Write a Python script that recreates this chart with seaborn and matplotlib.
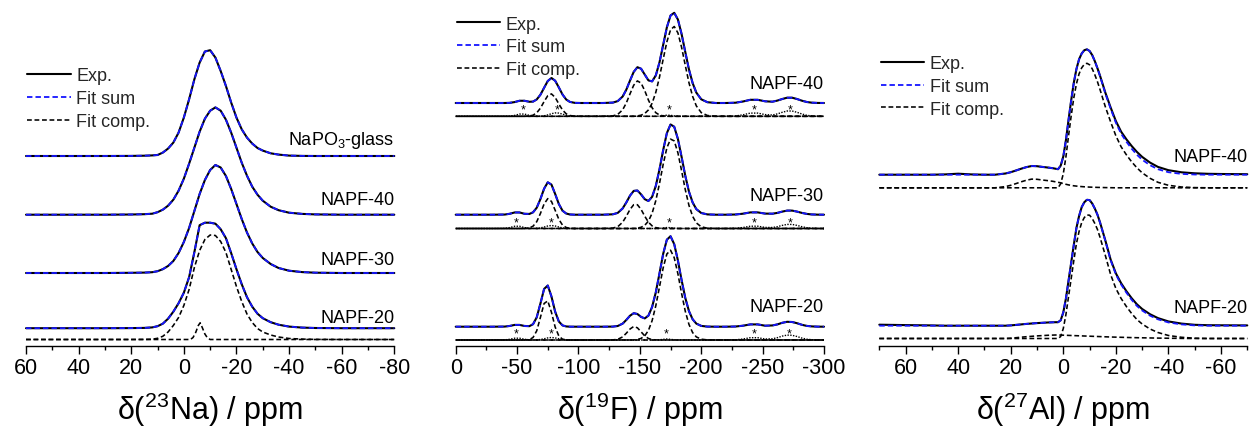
import numpy as np
import matplotlib
matplotlib.use("Agg")
import matplotlib.pyplot as plt
from matplotlib.lines import Line2D
from matplotlib.ticker import FixedLocator
import seaborn as sns

# ======================= DATA =======================
# ---- 23Na panel (intensities in arbitrary units) ----
NA_PPM = [60, 40, 30, 20, 15, 12, 10, 8, 6, 4, 2, 0, -2, -4, -6, -8, -10, -12, -14,
          -16, -18, -20, -22, -24, -26, -28, -30, -33, -36, -40, -45, -50, -60, -80]
NA_GLASS = {20: 0.1, 15: 0.3, 12: 0.6, 10: 1.0, 8: 3.4, 6: 7.4, 4: 13.4, 2: 23.4, 0: 38.4,
            -2: 56.7, -4: 76.7, -6: 93.4, -8: 104.5, -10: 105.8, -12: 98.4, -14: 85.0,
            -16: 70.0, -18: 53.4, -20: 38.4, -22: 26.7, -24: 18.4, -26: 12.4, -28: 8.0,
            -30: 5.4, -33: 2.7, -36: 1.4, -40: 0.4, -45: 0.1}
NA_40 = {20: 0.2, 15: 0.5, 12: 1.0, 10: 2.5, 8: 5.0, 6: 9.0, 4: 15.0, 2: 24.0, 0: 36.0,
         -2: 51.0, -4: 67.0, -6: 83.0, -8: 96.0, -10: 104.0, -12: 107.3, -14: 104.0,
         -16: 95.0, -18: 82.0, -20: 67.0, -22: 52.0, -24: 39.0, -26: 28.0, -28: 20.0,
         -30: 14.0, -33: 8.0, -36: 4.5, -40: 2.0, -45: 0.8, -50: 0.3}
NA_30 = {20: 0.2, 15: 0.4, 12: 0.8, 10: 1.8, 8: 3.8, 6: 7.0, 4: 12.0, 2: 20.0, 0: 31.0,
         -2: 45.0, -4: 62.0, -6: 79.0, -8: 93.0, -10: 103.0, -12: 108.0, -14: 105.5,
         -16: 97.0, -18: 84.0, -20: 69.0, -22: 54.0, -24: 40.5, -26: 29.5, -28: 21.0,
         -30: 15.0, -33: 9.0, -36: 5.0, -40: 2.3, -45: 0.9, -50: 0.3}
NA_20_EXP = {20: 0.1, 15: 0.3, 12: 0.8, 10: 2.0, 8: 4.5, 6: 9.5, 4: 16.5, 2: 25.0, 0: 35.5,
             -2: 51.0, -4: 76.0, -6: 103.0, -8: 105.5, -10: 105.5, -12: 104.5, -14: 99.0,
             -16: 90.0, -18: 75.0, -20: 59.0, -22: 44.0, -24: 31.0, -26: 21.5, -28: 14.5,
             -30: 10.0, -33: 6.0, -36: 3.5, -40: 1.6, -45: 0.6, -50: 0.2}
NA_20_MAIN = {15: 0.1, 12: 0.3, 10: 1.2, 8: 3.2, 6: 7.5, 4: 14.0, 2: 22.0, 0: 34.0,
              -2: 50.0, -4: 72.0, -6: 89.0, -8: 100.0, -10: 104.5, -12: 104.0, -14: 98.0,
              -16: 87.0, -18: 70.0, -20: 53.0, -22: 38.0, -24: 25.5, -26: 17.0, -28: 11.0,
              -30: 7.5, -33: 4.5, -36: 2.5, -40: 1.0, -45: 0.4, -50: 0.1}
NA_SMALL_PPM = [60, -2.5, -3.5, -4.5, -5.5, -6.2, -7.0, -8.0, -9.0, -10.0, -80]
NA_20_SMALL = [0.0, 0.0, 2.0, 7.0, 14.0, 16.7, 12.0, 5.5, 1.5, 0.0, 0.0]
NA_TICKS = [60, 40, 20, 0, -20, -40, -60, -80]
NA_TICKLABELS = ["60", "40", "20", "0", "-20", "-40", "-60", "-80"]
NA_MINOR = [50, 30, 10, -10, -30, -50, -70]

# ---- 19F panel ----
F_PPM = [0, -10, -20, -30, -40, -44, -48, -52, -56, -60, -63, -66, -69, -72, -75, -78,
         -81, -84, -87, -90, -93, -97, -102, -110, -120, -128, -132, -136, -139, -142,
         -145, -148, -151, -154, -157, -160, -163, -166, -169, -172, -175, -178, -181,
         -184, -187, -190, -193, -196, -200, -205, -212, -220, -228, -234, -240, -246,
         -252, -258, -262, -266, -270, -274, -278, -282, -286, -290, -295, -300]
F40_A = {-60: 0.3, -63: 1.1, -66: 3.5, -69: 8.1, -72: 14.7, -75: 20.6, -78: 22.4, -81: 18.9,
         -84: 12.4, -87: 6.3, -90: 2.5, -93: 0.8, -97: 0.1}
F40_B = {-128: 0.4, -132: 1.9, -136: 6.5, -139: 13.4, -142: 22.5, -145: 31.1, -148: 35.4,
         -151: 33.2, -154: 25.6, -157: 16.2, -160: 8.5, -163: 3.6, -166: 1.3, -169: 0.4,
         -172: 0.1}
F40_C = {-148: 0.4, -151: 1.1, -154: 2.8, -157: 6.4, -160: 13.1, -163: 24.0, -166: 39.2,
         -169: 57.1, -172: 74.4, -175: 86.5, -178: 89.8, -181: 83.4, -184: 69.0, -187: 51.0,
         -190: 33.6, -193: 19.9, -196: 10.4, -200: 3.7, -205: 0.8}
F40_SB = {-44: 0.16, -48: 0.92, -52: 2.24, -56: 2.24, -60: 0.92, -63: 0.3, -66: 0.05,
          -69: 0.14, -72: 0.5, -75: 1.4, -78: 2.6, -81: 3.4, -84: 3.2, -87: 2.2, -90: 1.0,
          -93: 0.3, -97: 0.05, -166: 0.15, -169: 0.6, -172: 1.15, -175: 1.0, -178: 0.4,
          -181: 0.08, -228: 0.3, -234: 1.5, -240: 3.2, -246: 3.2, -252: 1.7, -258: 1.3,
          -262: 2.4, -266: 4.0, -270: 5.3, -274: 5.3, -278: 4.0, -282: 2.3, -286: 1.0,
          -290: 0.34, -295: 0.06}
F30_A = {-60: 0.6, -63: 2.3, -66: 6.8, -69: 15.0, -72: 24.5, -75: 29.9, -78: 27.1, -81: 18.3,
         -84: 9.2, -87: 3.4, -90: 1.0, -93: 0.2}
F30_B = {-128: 0.4, -132: 1.8, -136: 6.3, -139: 12.3, -142: 19.1, -145: 23.8, -148: 23.8,
         -151: 19.1, -154: 12.3, -157: 6.3, -160: 2.6, -163: 0.9, -166: 0.2}
F30_C = {-148: 0.4, -151: 1.2, -154: 3.2, -157: 7.4, -160: 15.3, -163: 27.9, -166: 45.0,
         -169: 64.1, -172: 80.6, -175: 89.4, -178: 87.6, -181: 75.7, -184: 57.8, -187: 38.9,
         -190: 23.1, -193: 12.2, -196: 5.6, -200: 1.7, -205: 0.3}
F30_SB = {-40: 0.16, -44: 0.92, -48: 2.24, -52: 2.24, -56: 0.92, -60: 0.16, -63: 0.06,
          -66: 0.19, -69: 0.63, -72: 1.5, -75: 2.5, -78: 3.0, -81: 2.5, -84: 1.5, -87: 0.63,
          -90: 0.19, -93: 0.04, -166: 0.12, -169: 0.5, -172: 0.96, -175: 0.84, -178: 0.34,
          -181: 0.06, -228: 0.2, -234: 1.0, -240: 2.3, -246: 2.3, -252: 1.1, -258: 1.0,
          -262: 1.8, -266: 3.1, -270: 4.1, -274: 4.1, -278: 3.1, -282: 1.8, -286: 0.8,
          -290: 0.26, -295: 0.05}
F20_A = {-60: 0.4, -63: 2.5, -66: 9.2, -69: 22.6, -72: 36.5, -75: 39.1, -78: 27.7, -81: 13.0,
         -84: 4.0, -87: 0.8, -90: 0.1}
F20_B = {-128: 0.1, -132: 0.7, -136: 3.1, -139: 6.8, -142: 11.0, -145: 13.5, -148: 12.2,
         -151: 8.2, -154: 4.1, -157: 1.5, -160: 0.4, -163: 0.1}
F20_C = {-148: 0.5, -151: 1.6, -154: 4.2, -157: 9.6, -160: 19.4, -163: 34.3, -166: 53.1,
         -169: 72.2, -172: 86.0, -175: 89.8, -178: 82.3, -181: 66.2, -184: 46.6, -187: 28.8,
         -190: 15.6, -193: 7.4, -196: 3.1, -200: 0.8, -205: 0.1}
F20_SB = {-40: 0.13, -44: 0.74, -48: 1.8, -52: 1.8, -56: 0.74, -60: 0.13, -66: 0.16,
          -69: 0.5, -72: 1.25, -75: 2.1, -78: 2.5, -81: 2.1, -84: 1.25, -87: 0.5, -90: 0.16,
          -93: 0.03, -166: 0.21, -169: 0.68, -172: 1.0, -175: 0.68, -178: 0.21, -181: 0.03,
          -228: 0.2, -234: 1.0, -240: 2.3, -246: 2.3, -252: 1.0, -258: 1.25, -262: 2.3,
          -266: 3.9, -270: 4.9, -274: 4.7, -278: 3.5, -282: 1.9, -286: 0.8, -290: 0.3,
          -295: 0.05}
F40_STARS = [-55, -83, -173.5, -243, -272.3]
F30_STARS = [-49.6, -78, -173.7, -243, -272.3]
F20_STARS = [-49.6, -77.6, -171.8, -243, -271.7]
F_TICKS = [0, -50, -100, -150, -200, -250, -300]
F_TICKLABELS = ["0", "-50", "-100", "-150", "-200", "-250", "-300"]
F_MINOR = [-25, -75, -125, -175, -225, -275]

# ---- 27Al panel ----
AL_PPM = [70, 60, 50, 45, 40, 35, 30, 26, 22, 20, 18, 16, 14, 12, 10, 8, 6, 4, 3, 2, 1, 0,
          -1, -2, -3, -4, -5, -6, -7, -8, -9, -10, -11, -12, -13, -14, -16, -18, -20, -22,
          -24, -26, -28, -30, -33, -36, -40, -45, -50, -55, -60, -70]
AL40_MAIN = {1: 4.0, 0: 14.0, -1: 31.0, -2: 52.0, -3: 72.0, -4: 90.0, -5: 104.0, -6: 114.0,
             -7: 120.0, -8: 123.5, -9: 124.5, -10: 123.0, -11: 119.0, -12: 113.0, -13: 106.0,
             -14: 98.0, -16: 81.0, -18: 66.0, -20: 52.0, -22: 41.0, -24: 33.0, -26: 26.0,
             -28: 20.0, -30: 15.0, -33: 9.5, -36: 5.5, -40: 2.5, -45: 0.8, -50: 0.2}
AL40_SEC = {22: 1.2, 20: 2.5, 18: 4.2, 16: 6.0, 14: 7.6, 12: 8.7, 10: 8.5, 8: 7.8, 6: 7.2,
            4: 6.5, 3: 6.0, 2: 5.5, 1: 5.0, 0: 4.2, -1: 3.5, -2: 2.9, -3: 2.4, -4: 2.0,
            -5: 1.7, -6: 1.4, -7: 1.2, -8: 1.0, -9: 0.85, -10: 0.7, -11: 0.6, -12: 0.5,
            -13: 0.4, -14: 0.35, -16: 0.2, -18: 0.1}
AL40_RESID = {45: 0.3, 40: 1.0, 35: 0.3, -14: 0.4, -16: 0.8, -18: 1.2, -20: 1.6, -22: 2.0,
              -24: 2.4, -26: 2.7, -28: 2.8, -30: 2.8, -33: 2.6, -36: 2.3, -40: 2.0, -45: 1.6,
              -50: 1.2, -55: 0.9, -60: 0.7, -70: 0.5}
AL20_MAIN = {1: 2.0, 0: 10.0, -1: 24.0, -2: 42.0, -3: 60.0, -4: 78.0, -5: 95.0, -6: 107.0,
             -7: 116.0, -8: 121.0, -9: 123.5, -10: 123.3, -11: 120.0, -12: 115.0, -13: 109.0,
             -14: 101.0, -16: 83.0, -18: 64.0, -20: 50.0, -22: 40.0, -24: 32.0, -26: 25.0,
             -28: 19.0, -30: 14.5, -33: 9.5, -36: 6.0, -40: 3.0, -45: 1.2, -50: 0.3}
AL20_SEC = {20: 0.3, 18: 0.8, 16: 1.3, 14: 1.8, 12: 2.2, 10: 2.6, 8: 2.9, 6: 3.2, 4: 3.4,
            3: 3.5, 2: 3.5, 1: 3.4, 0: 3.3, -1: 3.2, -2: 3.1, -3: 3.0, -4: 2.9, -5: 2.8,
            -6: 2.7, -7: 2.6, -8: 2.5, -9: 2.4, -10: 2.3, -11: 2.2, -12: 2.1, -13: 2.0,
            -14: 1.9, -16: 1.7, -18: 1.5, -20: 1.35, -22: 1.2, -24: 1.05, -26: 0.9, -28: 0.8,
            -30: 0.7, -33: 0.55, -36: 0.4, -40: 0.25, -45: 0.1}
AL20_RESID = {70: 1.0, 60: 0.6, 50: 0.3, -14: 0.2, -16: 0.5, -18: 0.7, -20: 1.0, -22: 1.3,
              -24: 1.5, -26: 1.6, -28: 1.6, -30: 1.5, -33: 1.4, -36: 1.2, -40: 1.0, -45: 0.8,
              -50: 0.6, -55: 0.5, -60: 0.4, -70: 0.3}
AL_TICKS = [60, 40, 20, 0, -20, -40, -60]
AL_TICKLABELS = ["60", "40", "20", "0", "-20", "-40", "-60"]
AL_MINOR = [70, 50, 30, 10, -10, -30, -50, -70]

LEGEND_LABELS = ["Exp.", "Fit sum", "Fit comp."]

# ======================= LAYOUT / STYLE =======================
FIG_W, FIG_H = 1249, 427
AXIS_Y = 346.7                      # pixel row of the x axes
PANEL_LEFT = [26.0, 455.7, 879.3]
PANEL_WIDTH = [368.3, 368.3, 368.0]
XLIMS = [(60, -80), (0, -300), (70, -70)]
LEGEND_ANCHOR = [(0.004, 0.803), (0.003, 0.952), (0.005, 0.838)]

BLUE = "#1515ff"
DASH = (0, (3.0, 1.7))
STYLES = {
    "exp": dict(color="black", linewidth=1.5, linestyle="-"),
    "fit": dict(color=BLUE, linewidth=1.3, linestyle=DASH),
    "comp": dict(color="black", linewidth=1.15, linestyle=DASH),
    "sb": dict(color="black", linewidth=1.0, linestyle=(0, (1.0, 1.0))),
}

sns.set_theme(style="ticks")
plt.rcParams["font.family"] = ["Liberation Sans", "DejaVu Sans"]
plt.rcParams["mathtext.fontset"] = "custom"
plt.rcParams["mathtext.rm"] = "Liberation Sans"
plt.rcParams["mathtext.it"] = "Liberation Sans:italic"
plt.rcParams["mathtext.bf"] = "Liberation Sans:bold"
plt.rcParams["axes.unicode_minus"] = False


def on_grid(grid, values):
    for k in values:
        assert k in grid, k
    return np.array([values.get(p, 0.0) for p in grid], dtype=float)


def draw(ax, x, y, offset, kind, **extra):
    st = dict(STYLES[kind])
    st.update(extra)
    sns.lineplot(x=np.asarray(x, dtype=float), y=np.asarray(y, dtype=float) + offset,
                 ax=ax, sort=False, estimator=None, errorbar=None, legend=False, **st)


def setup_axis(ax, xlim, ticks, ticklabels, minor, xlabel):
    ax.set_xlim(*xlim)
    ax.set_ylim(0, AXIS_Y)
    for s in ["left", "right", "top"]:
        ax.spines[s].set_visible(False)
    ax.spines["bottom"].set_linewidth(1.0)
    ax.spines["bottom"].set_color("black")
    ax.yaxis.set_visible(False)
    ax.xaxis.set_major_locator(FixedLocator(ticks))
    ax.set_xticklabels(ticklabels)
    ax.xaxis.set_minor_locator(FixedLocator(minor))
    ax.tick_params(axis="x", which="major", direction="out", length=5.8, width=1.0,
                   colors="black", labelsize=15.5, pad=2.5, bottom=True)
    ax.tick_params(axis="x", which="minor", direction="out", length=3.0, width=1.0,
                   colors="black", bottom=True)
    ax.set_xlabel(xlabel, fontsize=22, labelpad=8.0, color="black")
    ax.set_facecolor("white")
    ax.grid(False)


def label(ax, y, text):
    ax.text(1.0, y, text, transform=ax.get_yaxis_transform(), ha="right",
            va="baseline", fontsize=13, color="black")


def legend(ax, anchor):
    handles = [Line2D([], [], **STYLES["exp"]), Line2D([], [], **STYLES["fit"]),
               Line2D([], [], **STYLES["comp"])]
    ax.legend(handles, LEGEND_LABELS, loc="upper left", bbox_to_anchor=anchor,
              frameon=False, fontsize=13, handlelength=2.4, handletextpad=0.3,
              labelspacing=0.32, borderpad=0, borderaxespad=0)


fig = plt.figure(figsize=(FIG_W / 100, FIG_H / 100), dpi=100)
fig.patch.set_facecolor("white")
axes = []
for left, width in zip(PANEL_LEFT, PANEL_WIDTH):
    axes.append(fig.add_axes([left / FIG_W, (FIG_H - AXIS_Y) / FIG_H,
                              width / FIG_W, AXIS_Y / FIG_H]))
ax1, ax2, ax3 = axes

# ---------------- panel 1: 23Na ----------------
na_series = [(NA_GLASS, 189.7), (NA_40, 131.0), (NA_30, 72.7)]
for d, off in na_series:
    y = on_grid(NA_PPM, d)
    draw(ax1, NA_PPM, y, off, "exp")
    draw(ax1, NA_PPM, y, off, "fit")
y20 = on_grid(NA_PPM, NA_20_EXP)
draw(ax1, NA_PPM, y20, 17.5, "exp")
draw(ax1, NA_PPM, y20, 17.5, "fit")
draw(ax1, NA_PPM, on_grid(NA_PPM, NA_20_MAIN), 6.2, "comp")
draw(ax1, NA_SMALL_PPM, NA_20_SMALL, 6.2, "comp")
setup_axis(ax1, XLIMS[0], NA_TICKS, NA_TICKLABELS, NA_MINOR, "δ($^{23}$Na) / ppm")
label(ax1, 201.7, "NaPO$_3$-glass")
label(ax1, 141.7, "NAPF-40")
label(ax1, 81.7, "NAPF-30")
label(ax1, 24.0, "NAPF-20")
legend(ax1, LEGEND_ANCHOR[0])

# ---------------- panel 2: 19F ----------------
f_series = [
    ((F40_A, F40_B, F40_C), F40_SB, F40_STARS, 242.7, 229.4, 257.4, "NAPF-40"),
    ((F30_A, F30_B, F30_C), F30_SB, F30_STARS, 131.0, 117.2, 145.7, "NAPF-30"),
    ((F20_A, F20_B, F20_C), F20_SB, F20_STARS, 19.0, 5.7, 35.0, "NAPF-20"),
]
for comps, sb, stars, off_exp, off_comp, off_lab, name in f_series:
    comp_arrays = [on_grid(F_PPM, c) for c in comps]
    sb_arr = on_grid(F_PPM, sb)
    total = sum(comp_arrays) + sb_arr
    draw(ax2, F_PPM, total, off_exp, "exp")
    draw(ax2, F_PPM, total, off_exp, "fit")
    draw(ax2, F_PPM, sb_arr, off_comp, "sb")
    for i, c in enumerate(comp_arrays):
        draw(ax2, F_PPM, c, off_comp, "comp", linestyle=(1.6 * i, DASH[1]))
    for s in stars:
        ax2.text(s, off_comp + 6.5, "*", ha="center", va="center", fontsize=9,
                 color="black")
    label(ax2, off_lab, name)
setup_axis(ax2, XLIMS[1], F_TICKS, F_TICKLABELS, F_MINOR, "δ($^{19}$F) / ppm")
legend(ax2, LEGEND_ANCHOR[1])

# ---------------- panel 3: 27Al ----------------
al_series = [
    (AL40_MAIN, AL40_SEC, AL40_RESID, 171.0, 157.9, 184.4, "NAPF-40"),
    (AL20_MAIN, AL20_SEC, AL20_RESID, 20.0, 7.2, 33.4, "NAPF-20"),
]
for main, sec, resid, off_exp, off_comp, off_lab, name in al_series:
    m = on_grid(AL_PPM, main)
    s2 = on_grid(AL_PPM, sec)
    fit = m + s2
    exp_ = fit + on_grid(AL_PPM, resid)
    draw(ax3, AL_PPM, exp_, off_exp, "exp")
    draw(ax3, AL_PPM, fit, off_exp, "fit")
    draw(ax3, AL_PPM, m, off_comp, "comp")
    draw(ax3, AL_PPM, s2, off_comp, "comp")
    label(ax3, off_lab, name)
setup_axis(ax3, XLIMS[2], AL_TICKS, AL_TICKLABELS, AL_MINOR, "δ($^{27}$Al) / ppm")
legend(ax3, LEGEND_ANCHOR[2])

for ax in axes:
    for ln in ax.lines:
        ln.set_clip_on(False)

fig.savefig("out.png", dpi=100, facecolor="white")
